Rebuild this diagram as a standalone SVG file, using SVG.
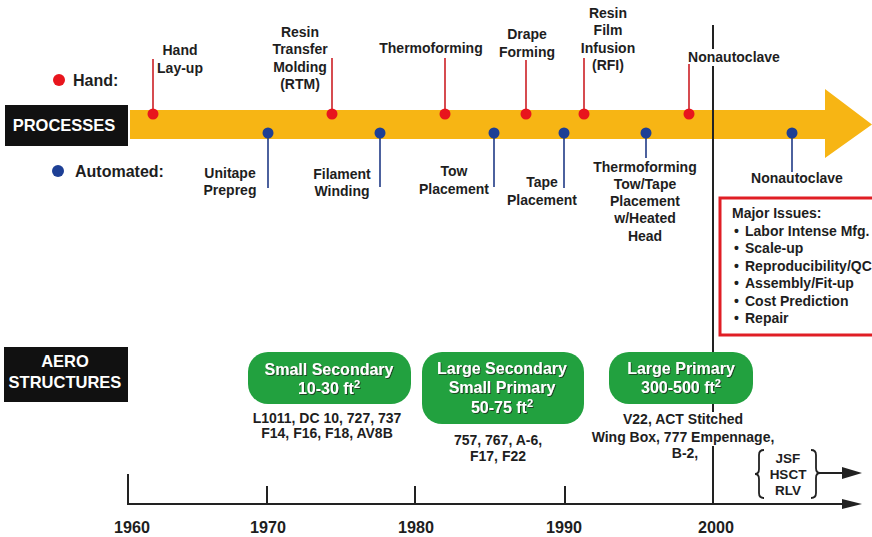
<svg xmlns="http://www.w3.org/2000/svg" width="872" height="537" viewBox="0 0 872 537">
<defs>
<style>
.lbl{font-family:"Liberation Sans",Arial,sans-serif;font-weight:bold;font-size:14px;fill:#1e1e1e;text-anchor:middle}
.leg{font-family:"Liberation Sans",Arial,sans-serif;font-weight:bold;font-size:16px;fill:#1e1e1e}
.hdr{font-family:"Liberation Sans",Arial,sans-serif;font-weight:bold;font-size:16.5px;fill:#ffffff;text-anchor:middle}
.grn{font-family:"Liberation Sans",Arial,sans-serif;font-weight:bold;font-size:16px;fill:#ffffff;text-anchor:middle;filter:url(#sh)}
.iss{font-family:"Liberation Sans",Arial,sans-serif;font-weight:bold;font-size:14px;fill:#1e1e1e}
.yr{font-family:"Liberation Sans",Arial,sans-serif;font-weight:bold;font-size:16.5px;fill:#1e1e1e;text-anchor:middle}
.fut{font-family:"Liberation Sans",Arial,sans-serif;font-weight:bold;font-size:13.5px;fill:#1e1e1e;text-anchor:middle}
.rs{stroke:#cc1f25;stroke-width:1.6;fill:none}
.bs{stroke:#203a86;stroke-width:1.6;fill:none}
.rd{fill:#e8151d}
.bd{fill:#1d3f95}
.box{fill:#22a13f}
.ax{stroke:#222;stroke-width:2;fill:none}
</style>
<filter id="sh" x="-10%" y="-30%" width="120%" height="160%">
<feDropShadow dx="1" dy="1" stdDeviation="0.4" flood-color="#1a3a1a" flood-opacity="0.9"/>
</filter>
</defs>
<rect width="872" height="537" fill="#ffffff"/>

<g id="process-arrow">
<polygon points="130,110 825,110 825,89 872,124.5 825,158 825,139 130,139" fill="#f7b514"/>
</g>

<g id="processes-label">
<rect x="5" y="105" width="123" height="41" fill="#111"/>
<text class="hdr" x="64" y="131">PROCESSES</text>
</g>

<g id="legend-hand">
<circle cx="59" cy="80" r="6" class="rd"/>
<text class="leg" x="73" y="86">Hand:</text>
</g>
<g id="legend-automated">
<circle cx="58" cy="171" r="6" class="bd"/>
<text class="leg" x="75" y="177">Automated:</text>
</g>

<g id="connectors">
<line class="ax" x1="713" y1="25" x2="713" y2="49"/>
<line class="ax" x1="713" y1="66" x2="713" y2="412"/>
<line class="ax" x1="713" y1="446" x2="713" y2="504"/>
<line class="rs" x1="153" y1="59" x2="153" y2="114"/>
<line class="rs" x1="332" y1="58" x2="332" y2="114"/>
<line class="rs" x1="445" y1="58" x2="445" y2="114"/>
<line class="rs" x1="526" y1="60" x2="526" y2="114"/>
<line class="rs" x1="584" y1="58" x2="584" y2="114"/>
<line class="rs" x1="689" y1="64" x2="689" y2="114"/>
<line class="bs" x1="268" y1="133" x2="268" y2="188"/>
<line class="bs" x1="380" y1="133" x2="380" y2="187"/>
<line class="bs" x1="494" y1="133" x2="494" y2="187"/>
<line class="bs" x1="564" y1="133" x2="564" y2="188"/>
<line class="bs" x1="646" y1="133" x2="646" y2="158"/>
<line class="bs" x1="792" y1="133" x2="792" y2="172"/>
</g>

<g id="hand-layup">
<circle cx="153" cy="114" r="5.5" class="rd"/>
<text class="lbl" x="180" y="55">Hand</text>
<text class="lbl" x="180" y="73">Lay-up</text>
</g>
<g id="rtm">
<circle cx="332" cy="114" r="5.5" class="rd"/>
<text class="lbl" x="300" y="37">Resin</text>
<text class="lbl" x="300" y="54">Transfer</text>
<text class="lbl" x="300" y="72">Molding</text>
<text class="lbl" x="300" y="89">(RTM)</text>
</g>
<g id="thermoforming">
<circle cx="445" cy="114" r="5.5" class="rd"/>
<text class="lbl" x="431" y="53">Thermoforming</text>
</g>
<g id="drape-forming">
<circle cx="526" cy="114" r="5.5" class="rd"/>
<text class="lbl" x="527" y="39">Drape</text>
<text class="lbl" x="527" y="57">Forming</text>
</g>
<g id="rfi">
<circle cx="584" cy="114" r="5.5" class="rd"/>
<text class="lbl" x="608" y="18">Resin</text>
<text class="lbl" x="608" y="35">Film</text>
<text class="lbl" x="608" y="53">Infusion</text>
<text class="lbl" x="608" y="70">(RFI)</text>
</g>
<g id="nonautoclave-hand">
<circle cx="689" cy="114" r="5.5" class="rd"/>
<text class="lbl" x="734" y="62">Nonautoclave</text>
</g>

<g id="unitape-prepreg">
<circle cx="268" cy="133" r="5.5" class="bd"/>
<text class="lbl" x="230" y="178">Unitape</text>
<text class="lbl" x="230" y="195">Prepreg</text>
</g>
<g id="filament-winding">
<circle cx="380" cy="133" r="5.5" class="bd"/>
<text class="lbl" x="342" y="179">Filament</text>
<text class="lbl" x="342" y="196">Winding</text>
</g>
<g id="tow-placement">
<circle cx="494" cy="133" r="5.5" class="bd"/>
<text class="lbl" x="454" y="176">Tow</text>
<text class="lbl" x="454" y="194">Placement</text>
</g>
<g id="tape-placement">
<circle cx="564" cy="133" r="5.5" class="bd"/>
<text class="lbl" x="542" y="187">Tape</text>
<text class="lbl" x="542" y="205">Placement</text>
</g>
<g id="thermo-tow-tape">
<circle cx="646" cy="133" r="5.5" class="bd"/>
<text class="lbl" x="645" y="172">Thermoforming</text>
<text class="lbl" x="645" y="189">Tow/Tape</text>
<text class="lbl" x="645" y="206">Placement</text>
<text class="lbl" x="645" y="223">w/Heated</text>
<text class="lbl" x="645" y="241">Head</text>
</g>
<g id="nonautoclave-auto">
<circle cx="792" cy="133" r="5.5" class="bd"/>
<text class="lbl" x="797" y="183">Nonautoclave</text>
</g>

<g id="major-issues">
<rect x="720" y="198" width="160" height="137" fill="#fff" stroke="#e01e25" stroke-width="3"/>
<text class="iss" x="732" y="218">Major Issues:</text>
<text class="iss" x="734" y="236">•</text><text class="iss" x="745" y="236">Labor Intense Mfg.</text>
<text class="iss" x="734" y="253">•</text><text class="iss" x="745" y="253">Scale-up</text>
<text class="iss" x="734" y="271">•</text><text class="iss" x="745" y="271">Reproducibility/QC</text>
<text class="iss" x="734" y="288">•</text><text class="iss" x="745" y="288">Assembly/Fit-up</text>
<text class="iss" x="734" y="306">•</text><text class="iss" x="745" y="306">Cost Prediction</text>
<text class="iss" x="734" y="323">•</text><text class="iss" x="745" y="323">Repair</text>
</g>

<g id="aero-structures">
<rect x="4" y="347" width="124" height="55" fill="#111"/>
<text class="hdr" x="65" y="367">AERO</text>
<text class="hdr" x="65" y="388">STRUCTURES</text>
</g>

<g id="small-secondary">
<rect class="box" x="248" y="352" width="163" height="52" rx="20"/>
<text class="grn" x="329" y="375">Small Secondary</text>
<text class="grn" x="329" y="394">10-30 ft<tspan font-size="11" dy="-6">2</tspan></text>
<text class="lbl" x="327" y="423">L1011, DC 10, 727, 737</text>
<text class="lbl" x="327" y="438">F14, F16, F18, AV8B</text>
</g>
<g id="large-secondary">
<rect class="box" x="422" y="352" width="162" height="72" rx="20"/>
<text class="grn" x="502" y="374">Large Secondary</text>
<text class="grn" x="502" y="393">Small Primary</text>
<text class="grn" x="502" y="413">50-75 ft<tspan font-size="11" dy="-6">2</tspan></text>
<text class="lbl" x="498" y="445">757, 767, A-6,</text>
<text class="lbl" x="498" y="461">F17, F22</text>
</g>
<g id="large-primary">
<rect class="box" x="609" y="352" width="144" height="52" rx="20"/>
<text class="grn" x="681" y="374">Large Primary</text>
<text class="grn" x="681" y="393">300-500 ft<tspan font-size="11" dy="-6">2</tspan></text>
<text class="lbl" x="683" y="424">V22, ACT Stitched</text>
<text class="lbl" x="683" y="442">Wing Box, 777 Empennage,</text>
<text class="lbl" x="685" y="458">B-2,</text>
</g>

<g id="timeline">
<line class="ax" x1="128" y1="504" x2="846" y2="504"/>
<polygon points="842,499 862,504 842,509" fill="#222"/>
<line class="ax" x1="128" y1="474" x2="128" y2="505"/>
<line class="ax" x1="267" y1="486" x2="267" y2="504"/>
<line class="ax" x1="415" y1="486" x2="415" y2="504"/>
<line class="ax" x1="565" y1="486" x2="565" y2="504"/>
<text class="yr" x="132" y="533" textLength="36" lengthAdjust="spacingAndGlyphs">1960</text>
<text class="yr" x="268" y="533" textLength="36" lengthAdjust="spacingAndGlyphs">1970</text>
<text class="yr" x="416" y="533" textLength="36" lengthAdjust="spacingAndGlyphs">1980</text>
<text class="yr" x="564" y="533" textLength="36" lengthAdjust="spacingAndGlyphs">1990</text>
<text class="yr" x="716" y="533" textLength="36" lengthAdjust="spacingAndGlyphs">2000</text>
</g>

<g id="future-programs">
<path d="M764,450 Q759,450 759,455 L759,469 Q759,474 755,474 Q759,474 759,479 L759,493 Q759,498 764,498" fill="none" stroke="#222" stroke-width="1.8"/>
<path d="M811,450 Q816,450 816,455 L816,468 Q816,473 820,473 Q816,473 816,478 L816,493 Q816,498 811,498" fill="none" stroke="#222" stroke-width="1.8"/>
<line class="ax" x1="820" y1="473" x2="846" y2="473"/>
<polygon points="842,467 862,473 842,479" fill="#222"/>
<text class="fut" x="788" y="463">JSF</text>
<text class="fut" x="788" y="479">HSCT</text>
<text class="fut" x="788" y="495">RLV</text>
</g>
</svg>
